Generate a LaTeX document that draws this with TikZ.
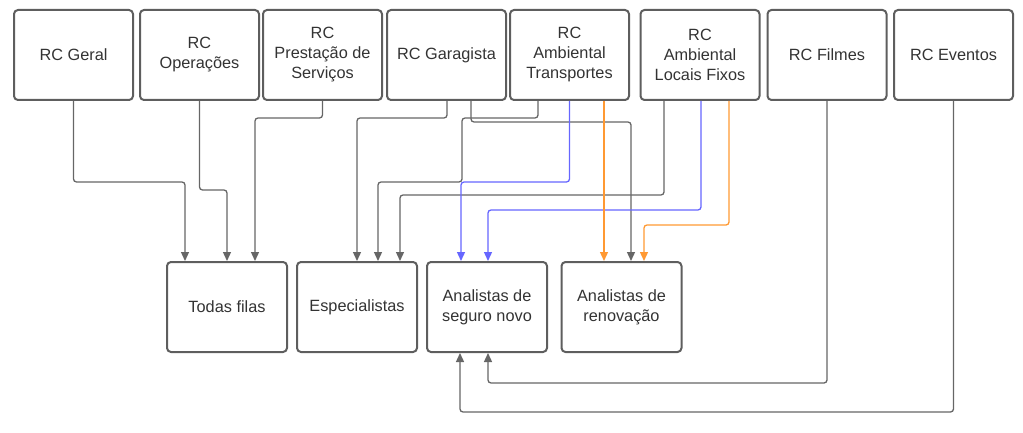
\documentclass[tikz,border=0pt]{standalone}
\usepackage{fontspec}
\setmainfont{Liberation Sans}
\usepackage{tikz}
\usetikzlibrary{calc}
\usetikzlibrary{arrows.meta}
\definecolor{boxgray}{HTML}{5E5E5E}
\definecolor{linegray}{HTML}{666666}
\definecolor{txtgray}{HTML}{333333}
\definecolor{lineblue}{HTML}{6666FF}
\definecolor{lineorange}{HTML}{FF9933}
\tikzset{
  fila/.style={draw=boxgray,line width=2pt,rounded corners=4pt,minimum width=119pt,minimum height=90pt,align=center,text=txtgray,font=\fontsize{16.3}{20}\selectfont,inner sep=0pt},
  conn/.style={draw=linegray,line width=1.3pt,rounded corners=3pt,-{Triangle[length=9pt,width=8pt]}},
}

\begin{document}
\begin{tikzpicture}[x=1pt,y=-1pt]
\useasboundingbox (0,0) rectangle (1023,433);
\foreach \n/\x/\t in {geral/73.5/{RC Geral}, oper/199.5/{RC\\Operações}, prest/322.5/{RC\\Prestação de\\Serviços}, gar/446.5/{RC Garagista}, tra/569.5/{RC\\Ambiental\\Transportes}, loc/700/{RC\\Ambiental\\Locais Fixos}, fil/827/{RC Filmes}, eve/953.5/{RC Eventos}} {
\node (\n) at (\x,55) [fila] {\t};
}
\foreach \n/\x/\t in {todas/227/{Todas filas}, esp/357/{Especialistas}, seg/487/{Analistas de\\seguro novo}, ren/621.5/{Analistas de\\renovação}} {
\node (\n) at (\x,307) [fila,minimum width=120pt] {\t};
}

\draw[conn] (geral.south) -- ++(0,81) -| ($(todas.north)+(-42,0)$);
\draw[conn] (oper.south) -- ++(0,89) -| (todas.north);
\draw[conn] (prest.south) -- ++(0,17) -| ($(todas.north)+(28,0)$);
\draw[conn] ($(gar.south)+(0.5,0)$) -- ++(0,17) -| (esp.north);
\draw[conn] ($(gar.south)+(24.5,0)$) -- ++(0,21) -| ($(ren.north)+(9.5,0)$);
\draw[conn] ($(tra.south)+(-31.5,0)$) -- ++(0,17) -- ++(-76,0) -- ++(0,64) -| ($(esp.north)+(21,0)$);
\draw[conn] ($(loc.south)+(-36,0)$) -- ++(0,94) -| ($(esp.north)+(43,0)$);
\draw[conn,draw=lineblue] (tra.south) -- ++(0,81) -| ($(seg.north)+(-26,0)$);
\draw[conn,draw=lineblue] ($(loc.south)+(1,0)$) -- ++(0,109) -| ($(seg.north)+(1,0)$);
\draw[conn,draw=lineorange] ($(tra.south)+(34.5,0)$) -- ($(ren.north)+(-17.5,0)$);
\draw[conn,draw=lineorange] ($(loc.south)+(29,0)$) -- ++(0,124) -| ($(ren.north)+(22.5,0)$);
\draw[conn] (fil.south) -- ++(0,282) -| ($(seg.south)+(1,0)$);
\draw[conn] (eve.south) -- ++(0,311) -| ($(seg.south)+(-27,0)$);
\end{tikzpicture}
\end{document}
